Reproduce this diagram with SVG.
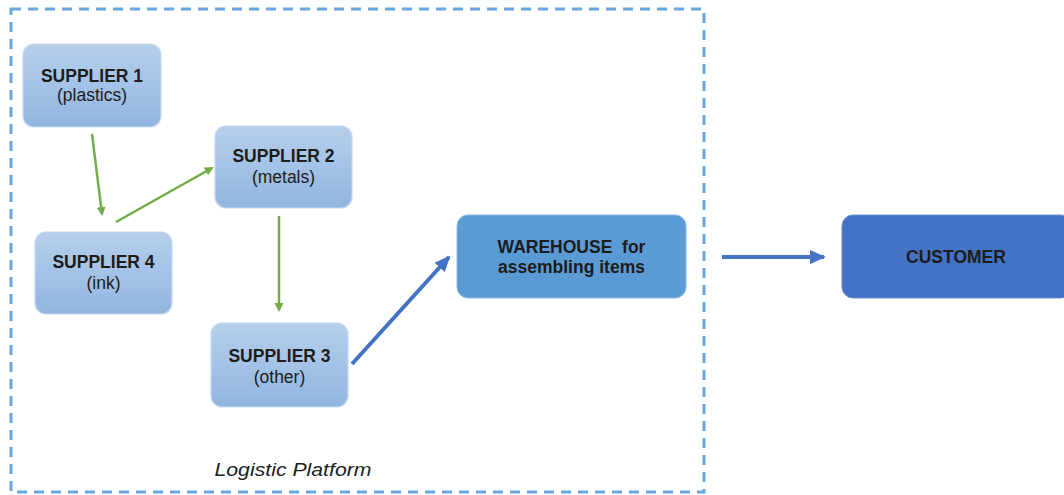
<svg xmlns="http://www.w3.org/2000/svg" width="1064" height="495" viewBox="0 0 1064 495">
<style>
.node{stroke:#c5d9f0;stroke-width:1.2}
.t{font-family:"Liberation Sans",Arial,sans-serif;font-size:17.5px;fill:#1c1c1c;text-anchor:middle}
.b{font-weight:bold}
.g{stroke:#70ad47;stroke-width:2.5;fill:none}
.bl{stroke:#4472c4;stroke-width:4;fill:none}
</style>
<defs>
<linearGradient id="sg" x1="0" y1="0" x2="0" y2="1">
<stop offset="0" stop-color="#b6cfec"/>
<stop offset="1" stop-color="#91b5e0"/>
</linearGradient>
<marker id="ag" markerWidth="10" markerHeight="10" refX="7" refY="5" orient="auto" markerUnits="userSpaceOnUse">
<path d="M0,0.5 L9,5 L0,9.5 z" fill="#70ad47"/>
</marker>
<marker id="ab" markerWidth="16" markerHeight="14" refX="14" refY="7" orient="auto" markerUnits="userSpaceOnUse">
<path d="M0,0 L16,7 L0,14 z" fill="#4472c4"/>
</marker>
</defs>
<rect width="1064" height="495" fill="#ffffff"/>
<g id="platform">
<rect x="11" y="9" width="693" height="483" fill="none" stroke="#6aa6de" stroke-width="3" stroke-dasharray="10 7"/>
<text x="293" y="476" font-family="'Liberation Sans',Arial,sans-serif" font-style="italic" font-size="18" fill="#1c1c1c" text-anchor="middle" textLength="157" lengthAdjust="spacingAndGlyphs">Logistic Platform</text>
</g>
<g id="connectors">
<line class="g" x1="92" y1="134" x2="102" y2="214" marker-end="url(#ag)"/>
<line class="g" x1="116" y1="222" x2="212" y2="168" marker-end="url(#ag)"/>
<line class="g" x1="279" y1="216" x2="279" y2="310" marker-end="url(#ag)"/>
<line class="bl" x1="352" y1="364" x2="449" y2="257" marker-end="url(#ab)"/>
<line class="bl" x1="722" y1="257" x2="824" y2="257" marker-end="url(#ab)"/>
</g>
<g id="supplier1">
<rect class="node" x="23" y="44" width="138" height="83" rx="11" fill="url(#sg)"/>
<text class="t b" x="92" y="82">SUPPLIER 1</text>
<text class="t" x="92" y="101">(plastics)</text>
</g>
<g id="supplier2">
<rect class="node" x="215" y="126" width="137" height="82" rx="11" fill="url(#sg)"/>
<text class="t b" x="283.5" y="162">SUPPLIER 2</text>
<text class="t" x="283.5" y="183">(metals)</text>
</g>
<g id="supplier4">
<rect class="node" x="35" y="232" width="137" height="82" rx="11" fill="url(#sg)"/>
<text class="t b" x="103.5" y="268">SUPPLIER 4</text>
<text class="t" x="103.5" y="289">(ink)</text>
</g>
<g id="supplier3">
<rect class="node" x="211" y="323" width="137" height="84" rx="11" fill="url(#sg)"/>
<text class="t b" x="279.5" y="362">SUPPLIER 3</text>
<text class="t" x="279.5" y="383">(other)</text>
</g>
<g id="warehouse">
<rect x="457" y="215" width="229" height="83" rx="11" fill="#5b9bd5" stroke="#8ab8e3" stroke-width="1"/>
<text class="t b" x="571.5" y="253" style="white-space:pre">WAREHOUSE  for</text>
<text class="t b" x="571.5" y="273">assembling items</text>
</g>
<g id="customer">
<rect x="842" y="215" width="230" height="83" rx="11" fill="#4472c4" stroke="#6a8fd3" stroke-width="1"/>
<text class="t b" x="956" y="263">CUSTOMER</text>
</g>
</svg>
